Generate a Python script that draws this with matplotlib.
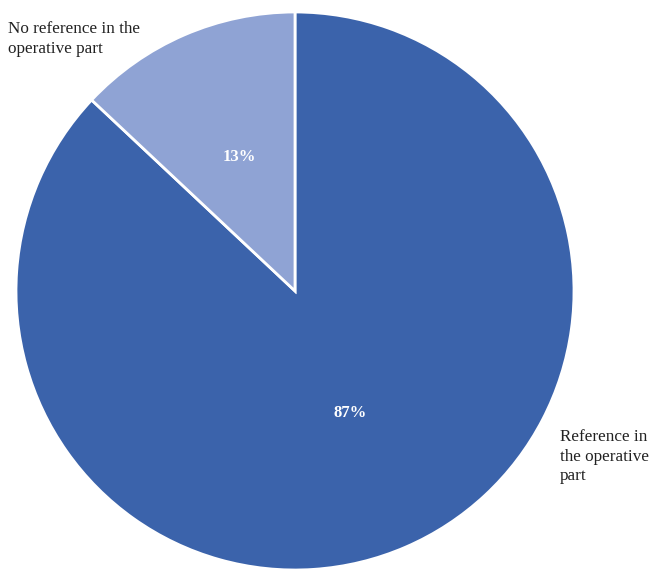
import matplotlib.pyplot as plt

plt.rcParams['font.family'] = ['Liberation Serif', 'DejaVu Serif']

labels = ["Reference in\nthe operative\npart", "No reference in the\noperative part"]
values = [87, 13]
colors = ["#3B63AB", "#8FA3D4"]

fig = plt.figure(figsize=(6.49, 5.69), dpi=100)
ax = fig.add_axes([0, 0, 1, 1])

wedges, texts, autotexts = ax.pie(
    values,
    colors=colors,
    startangle=90,
    counterclock=False,
    center=(295, 278),
    radius=279,
    autopct='%d%%',
    pctdistance=0.5,
    wedgeprops=dict(edgecolor='white', linewidth=2),
    textprops=dict(color='white', fontsize=12, fontweight='bold'),
    frame=True,
)
# nudge the percentage labels up a little
for t in autotexts:
    x, y = t.get_position()
    t.set_position((x, y + 6))

ax.set_xlim(0, 649)
ax.set_ylim(0, 569)
ax.set_aspect('equal')
ax.axis('off')

ax.text(8, 548, labels[1], fontsize=12.3, va='top', ha='left',
        color='#222222', linespacing=1.3)
ax.text(560, 140, labels[0], fontsize=12.3, va='top', ha='left',
        color='#222222', linespacing=1.3)

fig.savefig('out.png', dpi=100)
